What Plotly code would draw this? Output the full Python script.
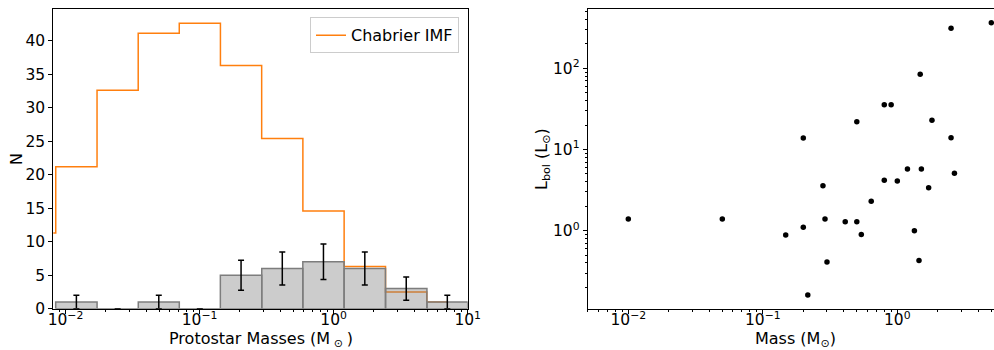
import numpy as np
import plotly.graph_objects as go

# ---------------- Left panel: histogram of protostar masses ----------------
bin_edges = [0.00845, 0.0172, 0.0349, 0.0706, 0.1429, 0.291, 0.589, 1.197, 2.438, 4.966, 10.0]
counts = [1, 0, 1, 0, 5, 6, 7, 6, 3, 1]
count_err = [1.0, 0.0, 1.0, 0.0, 2.24, 2.45, 2.65, 2.45, 1.73, 1.0]

# Chabrier IMF step curve (values at bin centres, one extra bin on the left)
imf_mass = [0.00593, 0.01206, 0.0245, 0.0496, 0.1004, 0.2039, 0.414, 0.8397, 1.708, 3.479, 7.047]
imf_n = [11.3, 21.2, 32.6, 41.1, 42.6, 36.3, 25.4, 14.6, 6.3, 2.5, 1.0]

# ---------------- Right panel: Lbol vs mass ----------------
mass = [0.01, 0.05, 0.148, 0.20, 0.20, 0.216, 0.28, 0.29, 0.30, 0.41, 0.50, 0.50, 0.54,
        0.64, 0.80, 0.80, 0.90, 1.0, 1.19, 1.34, 1.45, 1.48, 1.51, 1.71, 1.81, 2.51, 2.51,
        2.66, 5.0]
lbol = [1.39, 1.39, 0.885, 13.9, 1.10, 0.161, 3.58, 1.39, 0.41, 1.29, 1.29, 22.0, 0.90,
        2.30, 35.6, 4.18, 35.6, 4.09, 5.75, 1.0, 0.43, 84.4, 5.75, 3.38, 22.9, 311.0, 14.0,
        5.09, 365.0]

x_ticks_left = [0.01, 0.1, 1, 10]
x_ticktext_left = ["10<sup>\u22122</sup>", "10<sup>\u22121</sup>", "10<sup>0</sup>", "10<sup>1</sup>"]
y_ticks_left = [0, 5, 10, 15, 20, 25, 30, 35, 40]
x_ticks_right = [0.01, 0.1, 1]
x_ticktext_right = ["10<sup>\u22122</sup>", "10<sup>\u22121</sup>", "10<sup>0</sup>"]
y_ticks_right = [1, 10, 100]
y_ticktext_right = ["10<sup>0</sup>", "10<sup>1</sup>", "10<sup>2</sup>"]

W, H = 994, 350
FONT = "DejaVu Sans"
FS = 16
TFS = 15.5

edges = np.array(bin_edges)
centers = np.sqrt(edges[:-1] * edges[1:])

fig = go.Figure()

# IMF step line (steps-mid)
fig.add_trace(go.Scatter(
    x=imf_mass, y=imf_n, mode="lines", line=dict(color="#ff7f0e", width=1.5, shape="hvh"),
    name="Chabrier IMF", xaxis="x", yaxis="y", showlegend=True))

# Histogram bars as closed polygons
bx, by = [], []
for i, n in enumerate(counts):
    e0, e1 = bin_edges[i], bin_edges[i + 1]
    bx += [e0, e0, e1, e1, e0, None]
    by += [0, n, n, 0, 0, None]
fig.add_trace(go.Scatter(
    x=bx, y=by, mode="lines", fill="toself", fillcolor="rgba(128,128,128,0.4)",
    line=dict(color="rgb(125,125,125)", width=1.5), xaxis="x", yaxis="y",
    showlegend=False, hoverinfo="skip"))

# Poisson error bars
fig.add_trace(go.Scatter(
    x=centers, y=counts, mode="markers", marker=dict(size=1, color="rgba(0,0,0,0)"),
    error_y=dict(type="data", array=count_err, visible=True, color="black",
                 thickness=1.5, width=3),
    xaxis="x", yaxis="y", showlegend=False))

# Scatter of Lbol vs mass
fig.add_trace(go.Scatter(
    x=mass, y=lbol, mode="markers", marker=dict(size=5.5, color="black"),
    xaxis="x2", yaxis="y2", showlegend=False))


def minor_vals(lo_exp, hi_exp, lo, hi):
    vals = []
    for e in range(lo_exp, hi_exp + 1):
        for m in range(2, 10):
            v = m * 10.0 ** e
            if lo <= v <= hi:
                vals.append(v)
    return vals


axis_common = dict(showline=True, linecolor="black", linewidth=1, ticks="outside",
                   ticklen=4, tickwidth=1, tickcolor="black", showgrid=False,
                   zeroline=False, tickfont=dict(family=FONT, size=TFS, color="black"))

ydom = [1 - 308.7 / H, 1 - 9.3 / H]

fig.update_layout(
    width=W, height=H, margin=dict(l=0, r=0, t=0, b=0),
    paper_bgcolor="white", plot_bgcolor="white",
    font=dict(family=FONT, size=FS, color="black"),
    xaxis=dict(domain=[53.3 / W, 467.7 / W], type="log", range=[-2.091, 1.0], mirror=True,
               tickmode="array", tickvals=x_ticks_left, ticktext=x_ticktext_left,
               minor=dict(ticks="outside", ticklen=2, tickcolor="black", tickmode="array",
                          tickvals=minor_vals(-3, 0, 0.0081, 10), showgrid=False),
               anchor="y", automargin=False, ticklabelstandoff=-7, **axis_common),
    yaxis=dict(domain=ydom, range=[0, 44.69], mirror=True, tickmode="array",
               tickvals=y_ticks_left, anchor="x", automargin=False, **axis_common),
    xaxis2=dict(domain=[587.7 / W, 1.0], type="log", range=[-2.302, 0.719], mirror=True,
                tickmode="array", tickvals=x_ticks_right, ticktext=x_ticktext_right,
                minor=dict(ticks="outside", ticklen=2, tickcolor="black", tickmode="array",
                           tickvals=minor_vals(-3, 0, 0.005, 5.3), showgrid=False),
                anchor="y2", automargin=False, ticklabelstandoff=-7, **axis_common),
    yaxis2=dict(domain=ydom, type="log", range=[-0.961, 2.727], mirror=False,
                tickmode="array", tickvals=y_ticks_right, ticktext=y_ticktext_right,
                minor=dict(ticks="outside", ticklen=2, tickcolor="black", tickmode="array",
                           tickvals=minor_vals(-1, 2, 0.11, 530), showgrid=False),
                anchor="x2", automargin=False, **axis_common),
    legend=dict(x=459 / W, y=1 - 17.3 / H, xanchor="right", yanchor="top",
                bgcolor="rgba(255,255,255,0.8)", bordercolor="#cccccc", borderwidth=1,
                font=dict(family=FONT, size=FS, color="black")),
    showlegend=True,
)

annots = [
    dict(text="Protostar Masses (M<sub> \u2299 </sub>)", x=260.5 / W, y=1 - 339.5 / H,
         textangle=0),
    dict(text="N", x=16 / W, y=1 - 159 / H, textangle=-90),
    dict(text="Mass (M<sub>\u2299</sub>)", x=795.8 / W, y=1 - 339.5 / H, textangle=0),
    dict(text="L<sub>bol</sub> (L<sub>\u2299</sub>)", x=542 / W, y=1 - 159 / H,
         textangle=-90),
]
for a in annots:
    fig.add_annotation(xref="paper", yref="paper", showarrow=False, xanchor="center",
                       yanchor="middle", font=dict(family=FONT, size=FS, color="black"), **a)

fig.write_html("out.html", post_script="document.body.style.margin='0px';",
               config={"displayModeBar": False})
